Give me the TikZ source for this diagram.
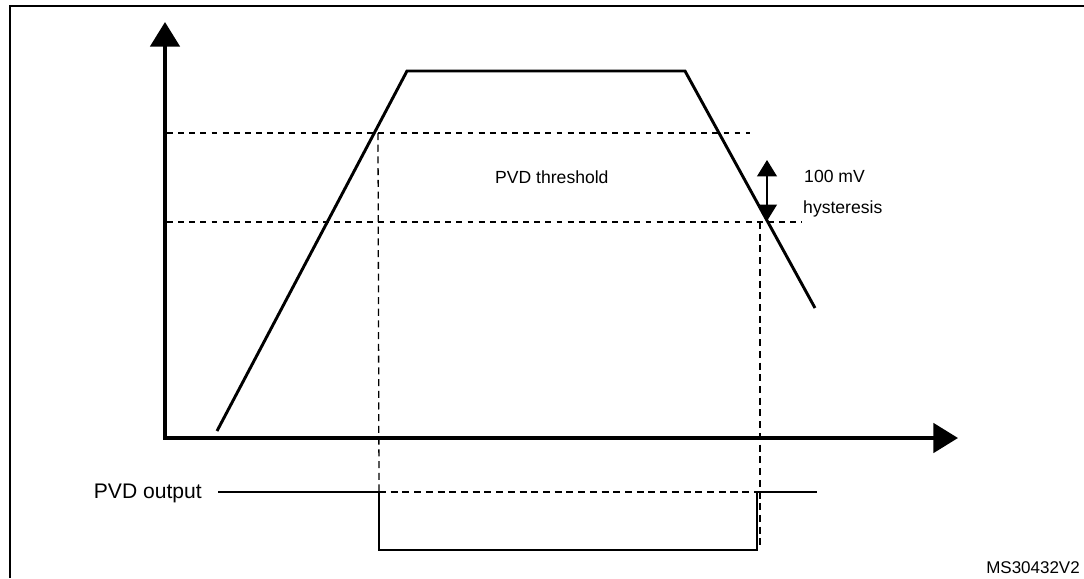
\documentclass[tikz,border=0pt]{standalone}
\usepackage{fontspec}
\setmainfont{Liberation Sans}
\usetikzlibrary{arrows.meta}
\tikzset{
  axis/.style={line width=3.2pt, line join=miter,
    {Triangle[length=21pt,width=25pt]}-{Triangle[length=21pt,width=25pt]}},
  curve/.style={line width=2.5pt, line join=miter},
  signal/.style={line width=2.3pt, line join=miter},
  thresh/.style={line width=1.5pt, dash pattern=on 5pt off 4.5pt},
  guide/.style={line width=1.1pt, dash pattern=on 6pt off 4pt}
}
\tikzset{
  lbl/.style={inner sep=0pt, font=\fontsize{15}{17}\selectfont}
}

\begin{document}
\begin{tikzpicture}[x=0.03cm, y=-0.03cm]
  \useasboundingbox (0,0) rectangle (1084,578);
  % frame
  \draw[line width=2.2pt] (10,578) -- (10,6) -- (1084,6);

  % axes
  \coordinate (o) at (165,438);
  \coordinate (ytop) at (165,22);
  \coordinate (xend) at (958,438);
  \draw[axis] (ytop) -- (o) -- (xend);

  % supply voltage
  \coordinate (v0) at (217,431);
  \coordinate (v1) at (407,71);
  \coordinate (v2) at (685,71);
  \coordinate (v3) at (815,308);
  \draw[curve] (v0) -- (v1) -- (v2) -- (v3);

  % threshold levels
  \coordinate (hiL) at (167,133);
  \coordinate (hiR) at (750,133);
  \coordinate (loL) at (167,222);
  \coordinate (loR) at (802,222);
  \draw[thresh] (hiL) -- (hiR);
  \draw[thresh] (loL) -- (loR);

  % hysteresis
  \coordinate (hyTop) at (767,160);
  \coordinate (hyBot) at (767,221);
  \draw[line width=1.1pt, {Triangle[length=14pt,width=17pt]}-{Triangle[length=14pt,width=17pt]}] (hyTop) -- (hyBot);
  \node[lbl, anchor=base west] (mv) at (804,182) {100 mV};
  \node[lbl, anchor=base west] (hys) at (803,213) {hysteresis};
  \node[lbl, anchor=base west] (thr) at (495,183) {PVD threshold};

  % PVD output
  \coordinate (s0) at (218,492);
  \coordinate (s1) at (379,492);
  \coordinate (s2) at (379,550);
  \coordinate (s3) at (757,550);
  \coordinate (s4) at (757,492);
  \coordinate (s5) at (817,492);
  \draw[guide] (378,133) -- (s1);
  \draw[guide] (760,222) -- (760,550);
  \draw[guide] (s1) -- (s4);
  \draw[signal] (s0) -- (s1) -- (s2) -- (s3) -- (s4) -- (s5);
  \node[inner sep=0pt, anchor=base east, font=\fontsize{18}{20}\selectfont] (out) at (202,498) {PVD output};

  \node[lbl, anchor=base east, font=\fontsize{14.5}{16}\selectfont] (ref) at (1080,573) {MS30432V2};
\end{tikzpicture}
\end{document}
